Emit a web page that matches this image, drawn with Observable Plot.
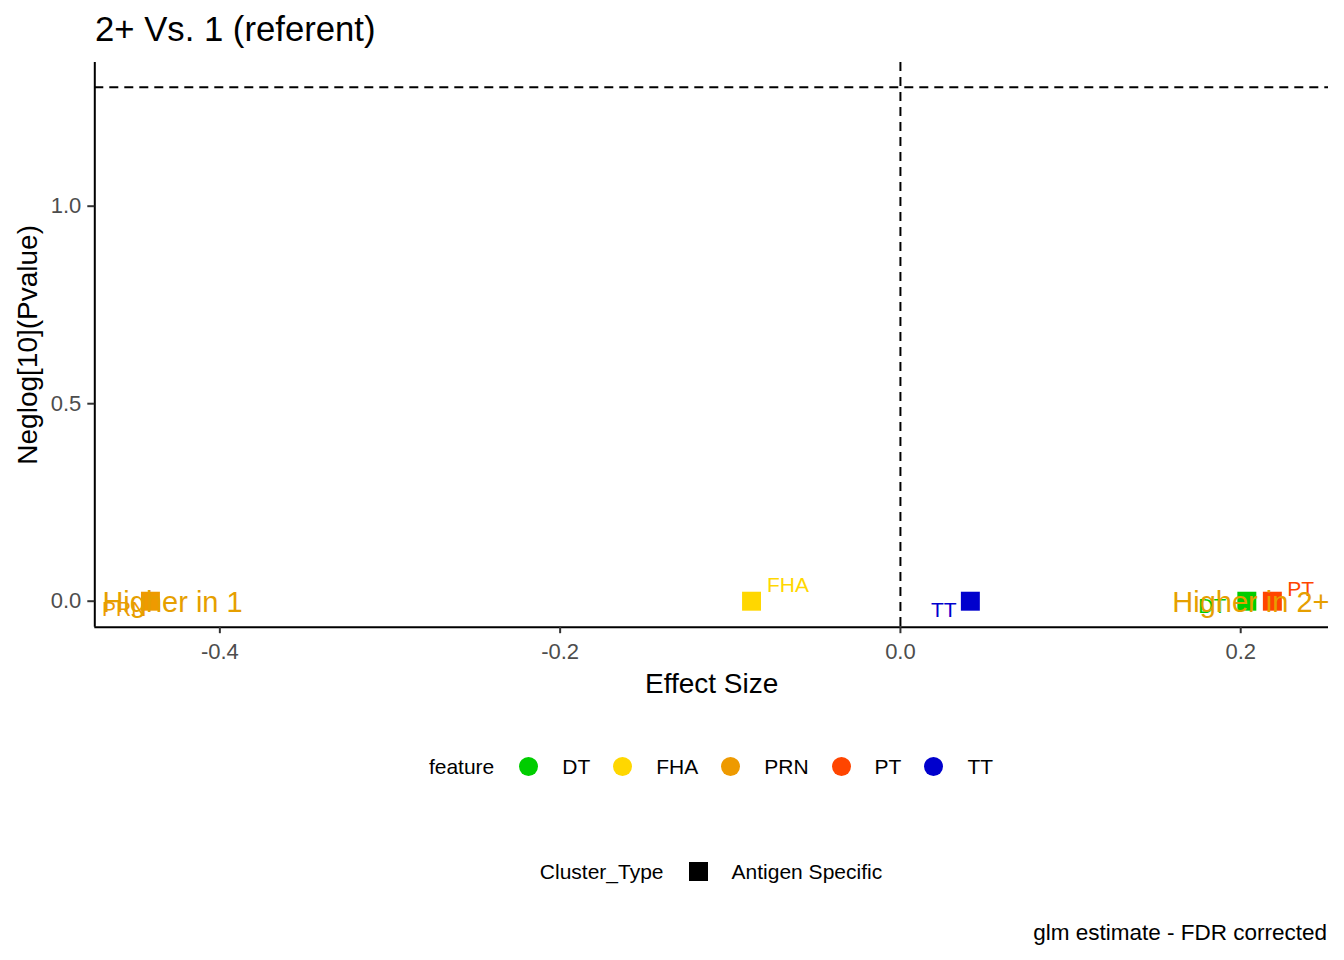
<!DOCTYPE html>
<html>
<head>
<meta charset="utf-8">
<script src="https://cdn.jsdelivr.net/npm/d3@7"></script>
<script src="https://cdn.jsdelivr.net/npm/@observablehq/plot@0.6"></script>
<style>
  html, body { margin: 0; padding: 0; background: #fff; }
  body { font-family: "Liberation Sans", Arial, sans-serif; }
  #wrap { position: relative; width: 1344px; height: 960px; overflow: hidden; }
  #title { position: absolute; left: 95px; top: 12px; font-size: 34.7px; line-height: 1; color: #000; white-space: nowrap; }
  #chart { position: absolute; left: 0; top: 0; }
  .legend { position: absolute; left: 94px; width: 1234px; display: flex; justify-content: center; align-items: center; font-size: 21px; line-height: 1; height: 21px; color: #000; white-space: nowrap; }
  .legend .ttl { margin-right: 25px; }
  .legend .key { width: 19px; height: 19px; margin-right: 24px; flex: none; }
  .legend .lab { margin-right: 23px; }
  .legend .lab:last-child { margin-right: 0; }
  #legend1 { top: 756px; }
  #legend2 { top: 861px; }
  #caption { position: absolute; right: 17px; top: 922px; font-size: 22.5px; line-height: 1; color: #000; white-space: nowrap; }
</style>
</head>
<body>
<div id="wrap">
  <div id="title"></div>
  <div id="chart"></div>
  <div id="legend1" class="legend"></div>
  <div id="legend2" class="legend"></div>
  <div id="caption"></div>
</div>
<script>
// ---- data ----
const features = ["DT", "FHA", "PRN", "PT", "TT"];
const featureColors = ["#00CD00", "#FFD700", "#EE9A00", "#FF4500", "#0000CD"];
const effectSize = [0.2036, -0.0875, -0.4408, 0.2186, 0.0411];
const neglogP = [0.0, 0.0, 0.0, 0.0, 0.0];
const clusterType = ["Antigen Specific", "Antigen Specific", "Antigen Specific", "Antigen Specific", "Antigen Specific"];
// repelled label positions (data units)
const labelX = [0.1833, -0.0661, -0.4562, 0.2353, 0.0255];
const labelY = [-0.0134, 0.0397, -0.0197, 0.0301, -0.0223];
// annotations
const annotText = ["Higher in 1", "Higher in 2+"];
const annotX = [-0.4278, 0.2060];
const annotY = [-0.0046, -0.0046];
const annotColor = "#E69F00";
// reference lines
const sigThreshold = [-Math.log10(0.05)];
const zeroEffect = [0];
// axes
const xDomain = [-0.4735, 0.2516];
const yDomain = [-0.0658, 1.3638];
const xTicks = [-0.4, -0.2, 0.0, 0.2];
const yTicks = [0.0, 0.5, 1.0];
const titleText = "2+ Vs. 1 (referent)";
const xLabel = "Effect Size";
const yLabel = "Neglog[10](Pvalue)";
const captionText = "glm estimate - FDR corrected";
const colorLegendTitle = "feature";
const shapeLegendTitle = "Cluster_Type";
const shapeLegendItems = ["Antigen Specific"];

const points = features.map((f, i) => ({
  feature: f, x: effectSize[i], y: neglogP[i], lx: labelX[i], ly: labelY[i], type: clusterType[i]
}));
const annots = annotText.map((t, i) => ({ t, x: annotX[i], y: annotY[i] }));

const font = '"Liberation Sans", Arial, sans-serif';
const fmt = d => d.toFixed(1);

const plot = Plot.plot({
  width: 1344,
  height: 720,
  marginTop: 62,
  marginBottom: 93.3,
  marginLeft: 94.3,
  marginRight: 16,
  style: { fontFamily: font, background: "transparent", overflow: "visible" },
  x: { domain: xDomain, ticks: xTicks },
  y: { domain: yDomain, ticks: yTicks },
  color: { domain: features, range: featureColors },
  marks: [
    Plot.ruleY(sigThreshold, { stroke: "#000", strokeWidth: 2, strokeDasharray: "9,6" }),
    Plot.ruleX(zeroEffect, { stroke: "#000", strokeWidth: 2, strokeDasharray: "9,6" }),
    Plot.ruleX([xDomain[0]], { stroke: "#000", strokeWidth: 2 }),
    Plot.ruleY([yDomain[0]], { stroke: "#000", strokeWidth: 2 }),
    Plot.axisX({ ticks: xTicks, tickFormat: fmt, tickSize: 6.5, tickPadding: 10, stroke: "#333", strokeWidth: 2,
      fontSize: 22, color: "#4D4D4D", label: xLabel, labelAnchor: "center", labelOffset: 66, labelArrow: "none" }),
    Plot.axisY({ ticks: yTicks, tickFormat: fmt, tickSize: 7, tickPadding: 6.5, stroke: "#333", strokeWidth: 2,
      fontSize: 22, color: "#4D4D4D", label: yLabel, labelAnchor: "center", labelOffset: 78, labelArrow: "none" }),
    Plot.dot(points, { x: "x", y: "y", fill: "feature", symbol: "square", r: 10.7, stroke: "none" }),
    Plot.text(points, { x: "lx", y: "ly", text: "feature", fill: "feature", fontSize: 21, fontFamily: font }),
    Plot.text(annots, { x: "x", y: "y", text: "t", fill: annotColor, fontSize: 29, fontFamily: font })
  ]
});
d3.select(plot).selectAll('[aria-label="x-axis tick label"], [aria-label="y-axis tick label"]')
  .style("font-size", "22px").attr("fill", "#4D4D4D");
d3.select(plot).selectAll('[aria-label="x-axis tick label"] text, [aria-label="y-axis tick label"] text')
  .style("font-size", "22px").attr("fill", "#4D4D4D");
d3.select(plot).selectAll('[aria-label="x-axis label"], [aria-label="y-axis label"]')
  .style("font-size", "28px").attr("fill", "#000");
d3.select(plot).selectAll('[aria-label="x-axis label"] text, [aria-label="y-axis label"] text')
  .attr("fill", "#000").style("font-size", "28px");
document.getElementById("chart").appendChild(plot);

document.getElementById("title").textContent = titleText;
document.getElementById("caption").textContent = captionText;

// legends
const l1 = d3.select("#legend1");
l1.append("span").attr("class", "ttl").text(colorLegendTitle);
features.forEach((f, i) => {
  l1.append("span").attr("class", "key").style("background", featureColors[i]).style("border-radius", "50%");
  l1.append("span").attr("class", "lab").text(f);
});
const l2 = d3.select("#legend2");
l2.append("span").attr("class", "ttl").text(shapeLegendTitle);
shapeLegendItems.forEach(s => {
  l2.append("span").attr("class", "key").style("background", "#000");
  l2.append("span").attr("class", "lab").text(s);
});
</script>
</body>
</html>
